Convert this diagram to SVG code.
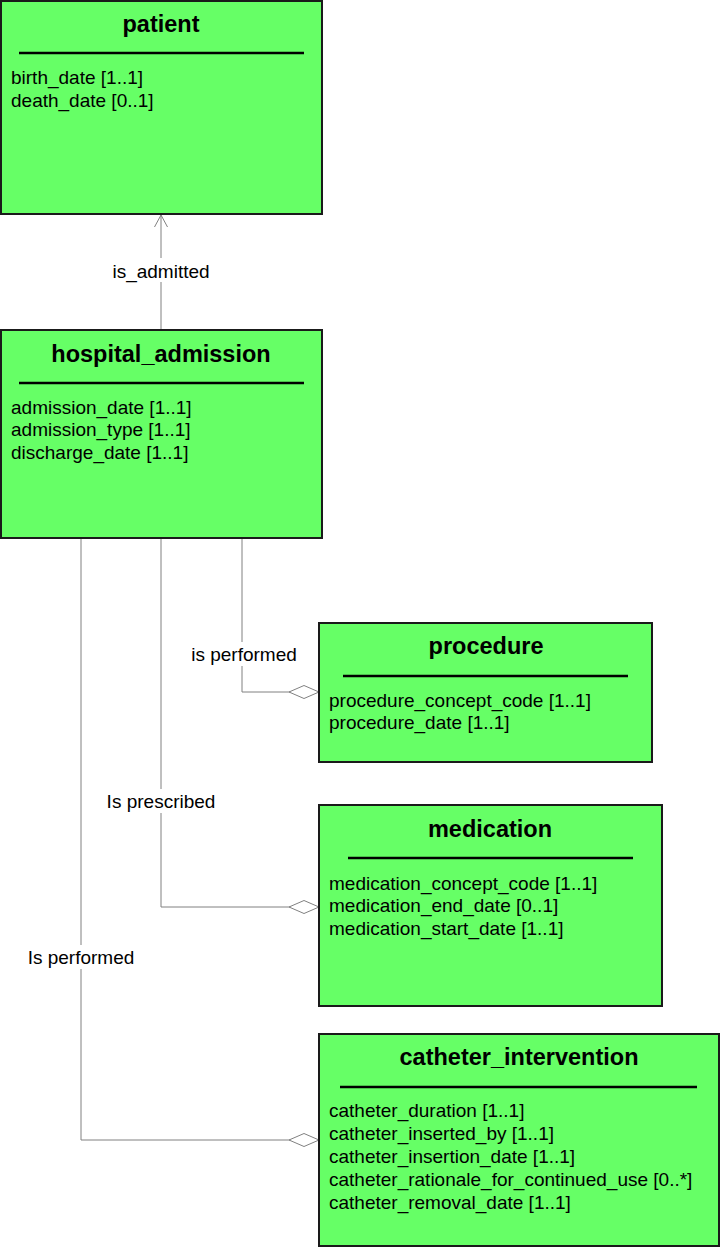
<svg xmlns="http://www.w3.org/2000/svg" width="720" height="1247" viewBox="0 0 720 1247">
<style>
.box{fill:#66ff66;stroke:#1a1a1a;stroke-width:2}
.sep{stroke:#000;stroke-width:2.5}
.title{font-family:"Liberation Sans",Arial,sans-serif;font-size:23.5px;font-weight:bold;text-anchor:middle;fill:#000}
.attr{font-family:"Liberation Sans",Arial,sans-serif;font-size:19px;fill:#000}
.lbl{font-family:"Liberation Sans",Arial,sans-serif;font-size:19px;fill:#000;text-anchor:middle}
.conn{fill:none;stroke:#808080;stroke-width:1}
.lblbg{fill:#fff}
</style>
<defs>
<marker id="open" viewBox="0 0 12 20" refX="12" refY="10" markerWidth="12" markerHeight="20" markerUnits="userSpaceOnUse" orient="auto">
<path d="M0,3.5 L12,10 L0,16.5" fill="none" stroke="#808080" stroke-width="1"/>
</marker>
<marker id="diamond" viewBox="0 0 30 14" refX="30" refY="7" markerWidth="30" markerHeight="14" markerUnits="userSpaceOnUse" orient="auto">
<path d="M0,7 L15,0.5 L30,7 L15,13.5 Z" fill="#fff" stroke="#808080" stroke-width="1"/>
</marker>
</defs>
<g id="connectors">
<path class="conn" d="M161,330 L161,215" marker-end="url(#open)"/>
<rect class="lblbg" x="108" y="258" width="106" height="24"/>
<text class="lbl" x="161" y="278">is_admitted</text>
<path class="conn" d="M242,539 L242,692 L319,692" marker-end="url(#diamond)"/>
<rect class="lblbg" x="188" y="642" width="112" height="24"/>
<text class="lbl" x="244" y="661">is performed</text>
<path class="conn" d="M161,539 L161,907 L319,907" marker-end="url(#diamond)"/>
<rect class="lblbg" x="102" y="789" width="118" height="24"/>
<text class="lbl" x="161" y="808">Is prescribed</text>
<path class="conn" d="M81,539 L81,1140 L319,1140" marker-end="url(#diamond)"/>
<rect class="lblbg" x="24" y="945" width="114" height="24"/>
<text class="lbl" x="81" y="964">Is performed</text>
</g>
<g id="patient">
<rect class="box" x="1" y="1" width="321" height="213"/>
<text class="title" x="161" y="32">patient</text>
<line class="sep" x1="19" y1="53" x2="304" y2="53"/>
<text class="attr" x="11" y="84">birth_date [1..1]</text>
<text class="attr" x="11" y="107">death_date [0..1]</text>
</g>
<g id="hospital_admission">
<rect class="box" x="1" y="330" width="321" height="208"/>
<text class="title" x="161" y="362">hospital_admission</text>
<line class="sep" x1="19" y1="383" x2="304" y2="383"/>
<text class="attr" x="11" y="414">admission_date [1..1]</text>
<text class="attr" x="11" y="436">admission_type [1..1]</text>
<text class="attr" x="11" y="459">discharge_date [1..1]</text>
</g>
<g id="procedure">
<rect class="box" x="319" y="623" width="333" height="139"/>
<text class="title" x="486" y="654">procedure</text>
<line class="sep" x1="343" y1="676" x2="628" y2="676"/>
<text class="attr" x="329" y="707">procedure_concept_code [1..1]</text>
<text class="attr" x="329" y="729">procedure_date [1..1]</text>
</g>
<g id="medication">
<rect class="box" x="319" y="805" width="343" height="201"/>
<text class="title" x="490" y="837">medication</text>
<line class="sep" x1="348" y1="858" x2="633" y2="858"/>
<text class="attr" x="329" y="890">medication_concept_code [1..1]</text>
<text class="attr" x="329" y="912">medication_end_date [0..1]</text>
<text class="attr" x="329" y="935">medication_start_date [1..1]</text>
</g>
<g id="catheter_intervention">
<rect class="box" x="319" y="1034" width="400" height="212"/>
<text class="title" x="519" y="1065">catheter_intervention</text>
<line class="sep" x1="340" y1="1087" x2="697" y2="1087"/>
<text class="attr" x="329" y="1117">catheter_duration [1..1]</text>
<text class="attr" x="329" y="1140">catheter_inserted_by [1..1]</text>
<text class="attr" x="329" y="1163">catheter_insertion_date [1..1]</text>
<text class="attr" x="329" y="1186">catheter_rationale_for_continued_use [0..*]</text>
<text class="attr" x="329" y="1209">catheter_removal_date [1..1]</text>
</g>
</svg>
